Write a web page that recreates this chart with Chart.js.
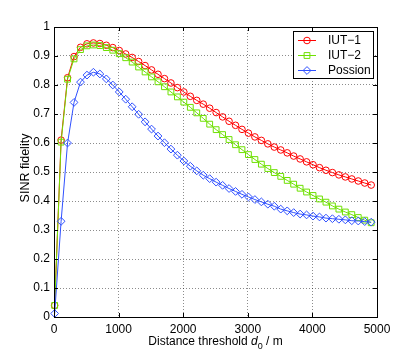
<!DOCTYPE html>
<html lang="en">
<head>
  <meta charset="UTF-8" />
  <title>SINR fidelity vs distance threshold</title>
  <script src="https://cdn.jsdelivr.net/npm/chart.js@4"></script>
  <style>
    html, body { margin: 0; padding: 0; background: #fff; }
    canvas { display: block; }
  </style>
</head>
<body>
  <canvas id="fidelityChart" width="417" height="357"></canvas>

  <script>
    // distance threshold d0 (m), one sample every 100 m
    const distances = [
      10, 110, 210, 310, 410, 510, 610, 710, 810, 910,
      1010, 1110, 1210, 1310, 1410, 1510, 1610, 1710, 1810, 1910,
      2010, 2110, 2210, 2310, 2410, 2510, 2610, 2710, 2810, 2910,
      3010, 3110, 3210, 3310, 3410, 3510, 3610, 3710, 3810, 3910,
      4010, 4110, 4210, 4310, 4410, 4510, 4610, 4710, 4810, 4910
    ];

    const iut1 = [
      0.040, 0.610, 0.825, 0.898, 0.930, 0.942, 0.945, 0.943, 0.937, 0.929,
      0.919, 0.907, 0.895, 0.881, 0.867, 0.852, 0.837, 0.822, 0.807, 0.791,
      0.776, 0.761, 0.747, 0.734, 0.720, 0.705, 0.690, 0.675, 0.661, 0.647,
      0.634, 0.621, 0.609, 0.597, 0.586, 0.576, 0.566, 0.555, 0.545, 0.535,
      0.525, 0.515, 0.506, 0.498, 0.490, 0.483, 0.476, 0.469, 0.462, 0.455
    ];

    const iut2 = [
      0.040, 0.603, 0.820, 0.890, 0.922, 0.935, 0.938, 0.936, 0.929, 0.920,
      0.908, 0.894, 0.879, 0.862, 0.845, 0.828, 0.811, 0.794, 0.776, 0.759,
      0.741, 0.723, 0.704, 0.685, 0.665, 0.646, 0.629, 0.612, 0.594, 0.577,
      0.560, 0.543, 0.527, 0.512, 0.498, 0.485, 0.471, 0.458, 0.444, 0.431,
      0.419, 0.407, 0.396, 0.383, 0.372, 0.362, 0.353, 0.343, 0.334, 0.325
    ];

    const possion = [
      0.012, 0.330, 0.600, 0.740, 0.810, 0.834, 0.844, 0.838, 0.821, 0.800,
      0.776, 0.751, 0.725, 0.699, 0.673, 0.648, 0.624, 0.601, 0.579, 0.558,
      0.538, 0.520, 0.504, 0.489, 0.477, 0.465, 0.454, 0.443, 0.433, 0.423,
      0.414, 0.405, 0.397, 0.389, 0.382, 0.372, 0.366, 0.360, 0.355, 0.352,
      0.348, 0.345, 0.341, 0.339, 0.337, 0.335, 0.332, 0.331, 0.329, 0.327
    ];

    const seriesNames = ["IUT\u22121", "IUT\u22122", "Possion"];
    const xTickValues = [0, 1000, 2000, 3000, 4000, 5000];
    const yTickValues = [0, 0.1, 0.2, 0.3, 0.4, 0.5, 0.6, 0.7, 0.8, 0.9, 1];
    const yTickLabels = ["0", "0.1", "0.2", "0.3", "0.4", "0.5", "0.6", "0.7", "0.8", "0.9", "1"];

    const FONT = '"Liberation Sans", Arial, Helvetica, sans-serif';
    const colors = ["#ff0000", "#6ee000", "#2f50ff"];
    const markers = ["circle", "rect", "rectRot"];
    const markerSize = [3.3, 4.1, 3.9];

    const toPoints = vals => vals.map((v, i) => ({ x: distances[i], y: v }));

    // draws a marker in the legend the same way as in the plot
    function drawMarker(ctx, style, x, y, r) {
      ctx.beginPath();
      if (style === "circle") {
        ctx.arc(x, y, r, 0, Math.PI * 2);
      } else if (style === "rect") {
        const s = r * Math.SQRT1_2;
        ctx.rect(x - s, y - s, 2 * s, 2 * s);
      } else {
        ctx.moveTo(x, y - r);
        ctx.lineTo(x + r, y);
        ctx.lineTo(x, y + r);
        ctx.lineTo(x - r, y);
        ctx.closePath();
      }
      ctx.stroke();
    }

    // box, inner ticks, axis titles and legend (matlab look)
    const matlabFrame = {
      id: "matlabFrame",
      afterDatasetsDraw(chart) {
        const { ctx, chartArea: a, scales: { x, y } } = chart;
        ctx.save();
        ctx.strokeStyle = "#000";
        ctx.lineWidth = 1;
        ctx.setLineDash([]);

        ctx.beginPath();
        xTickValues.forEach(v => {
          const px = Math.round(x.getPixelForValue(v)) + 0.5;
          ctx.moveTo(px, a.bottom); ctx.lineTo(px, a.bottom - 4);
          ctx.moveTo(px, a.top); ctx.lineTo(px, a.top + 4);
        });
        yTickValues.forEach(v => {
          const py = Math.round(y.getPixelForValue(v)) + 0.5;
          ctx.moveTo(a.left, py); ctx.lineTo(a.left + 4, py);
          ctx.moveTo(a.right, py); ctx.lineTo(a.right - 4, py);
        });
        ctx.stroke();
        ctx.strokeRect(a.left + 0.5, a.top + 0.5, a.right - a.left, a.bottom - a.top);

        // legend
        const lw = 80, lh = 47;
        const lx = a.right - 4 - lw, ly = a.top + 4;
        ctx.fillStyle = "#fff";
        ctx.fillRect(lx + 0.5, ly + 0.5, lw, lh);
        ctx.strokeRect(lx + 0.5, ly + 0.5, lw, lh);
        ctx.font = "12px " + FONT;
        ctx.textBaseline = "middle";
        seriesNames.forEach((name, i) => {
          const ry = ly + 9.5 + i * 15;
          ctx.strokeStyle = colors[i];
          ctx.beginPath();
          ctx.moveTo(lx + 5, ry); ctx.lineTo(lx + 23, ry);
          ctx.stroke();
          drawMarker(ctx, markers[i], lx + 14, ry, markerSize[i]);
          ctx.fillStyle = "#000";
          ctx.textAlign = "left";
          ctx.fillText(name, lx + 35, ry);
        });

        // x title with italic d and subscript 0
        ctx.fillStyle = "#000";
        ctx.textBaseline = "alphabetic";
        ctx.textAlign = "left";
        const parts = [
          { t: "Distance threshold ", f: "12px " + FONT, dy: 0 },
          { t: "d", f: "italic 12px " + FONT, dy: 0 },
          { t: "0", f: "9px " + FONT, dy: 4 },
          { t: " / m", f: "12px " + FONT, dy: 0 }
        ];
        let total = 0;
        parts.forEach(p => { ctx.font = p.f; p.w = ctx.measureText(p.t).width; total += p.w; });
        let cx = (a.left + a.right) / 2 - total / 2;
        parts.forEach(p => {
          ctx.font = p.f;
          ctx.fillText(p.t, cx, 345 + p.dy);
          cx += p.w;
        });

        // y title
        ctx.save();
        ctx.translate(29, (a.top + a.bottom) / 2 - 4);
        ctx.rotate(-Math.PI / 2);
        ctx.font = "12.5px " + FONT;
        ctx.textAlign = "center";
        ctx.fillText("SINR fidelity", 0, 0);
        ctx.restore();

        ctx.restore();
      }
    };

    const datasets = [iut1, iut2, possion].map((vals, i) => ({
      label: seriesNames[i],
      data: toPoints(vals),
      borderColor: colors[i],
      borderWidth: 1,
      backgroundColor: "rgba(0,0,0,0)",
      pointStyle: markers[i],
      pointRadius: markerSize[i],
      pointBorderColor: colors[i],
      pointBackgroundColor: "rgba(0,0,0,0)",
      pointBorderWidth: 1,
      tension: 0,
      clip: false,
      order: 2 - i
    }));

    new Chart(document.getElementById("fidelityChart"), {
      type: "line",
      data: { datasets },
      plugins: [matlabFrame],
      options: {
        responsive: false,
        animation: false,
        events: [],
        layout: { padding: { left: 0, top: 27, right: 40, bottom: 0 } },
        plugins: { legend: { display: false }, tooltip: { enabled: false } },
        scales: {
          x: {
            type: "linear",
            min: 0,
            max: 5000,
            afterBuildTicks: s => { s.ticks = xTickValues.map(v => ({ value: v })); },
            afterFit: s => { s.height = 40; },
            grid: { color: "rgba(0,0,0,0.45)", lineWidth: 1, drawTicks: false },
            border: { display: false, dash: [1, 2] },
            ticks: {
              autoSkip: false,
              maxRotation: 0,
              padding: 5,
              color: "#000",
              font: { family: FONT, size: 12 },
              callback: v => String(v)
            }
          },
          y: {
            type: "linear",
            min: 0,
            max: 1,
            afterBuildTicks: s => { s.ticks = yTickValues.map(v => ({ value: v })); },
            afterFit: s => { s.width = 54; },
            grid: { color: "rgba(0,0,0,0.45)", lineWidth: 1, drawTicks: false },
            border: { display: false, dash: [1, 2] },
            ticks: {
              autoSkip: false,
              padding: 4,
              color: "#000",
              font: { family: FONT, size: 12 },
              callback: (v, i) => yTickLabels[i]
            }
          }
        }
      }
    });
  </script>
</body>
</html>
